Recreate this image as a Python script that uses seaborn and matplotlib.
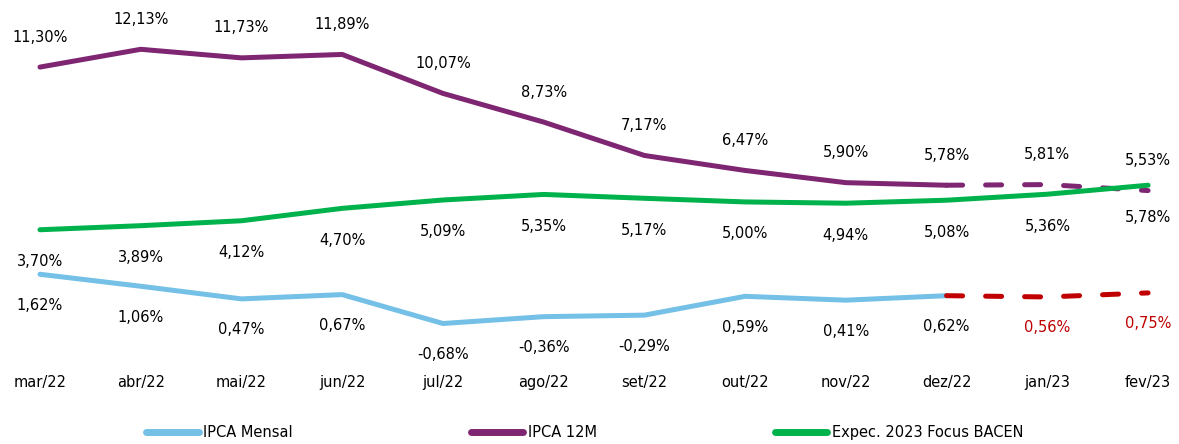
import pandas as pd
import matplotlib.pyplot as plt
import seaborn as sns
from matplotlib.lines import Line2D

# Data
months = ["mar/22", "abr/22", "mai/22", "jun/22", "jul/22", "ago/22",
          "set/22", "out/22", "nov/22", "dez/22", "jan/23", "fev/23"]
ipca_mensal = [1.62, 1.06, 0.47, 0.67, -0.68, -0.36, -0.29, 0.59, 0.41, 0.62, 0.56, 0.75]
ipca_12m = [11.30, 12.13, 11.73, 11.89, 10.07, 8.73, 7.17, 6.47, 5.90, 5.78, 5.81, 5.53]
focus_2023 = [3.70, 3.89, 4.12, 4.70, 5.09, 5.35, 5.17, 5.00, 4.94, 5.08, 5.36, 5.78]
n_realized = 10  # realized up to dez/22, projection afterwards

BLUE = "#74C0E6"
PURPLE = "#7E2672"
GREEN = "#00B24C"
RED = "#C00000"

sns.set_style("white")
plt.rcParams["font.family"] = ["DejaVu Sans"]
plt.rcParams["text.color"] = "black"
plt.rcParams["xtick.color"] = "black"

df = pd.DataFrame({
    "idx": range(len(months)),
    "mensal": ipca_mensal,
    "m12": ipca_12m,
    "focus": focus_2023,
})
real = df.iloc[:n_realized]
proj = df.iloc[n_realized - 1:]

fig = plt.figure(figsize=(11.79, 4.44), dpi=100)
ax = fig.add_axes([0, 0.178, 1, 0.777])

lw = 3.6
kw = dict(ax=ax, linewidth=lw, legend=False)
sns.lineplot(data=real, x="idx", y="mensal", color=BLUE, **kw)
sns.lineplot(data=proj, x="idx", y="mensal", color=RED, **kw)
sns.lineplot(data=real, x="idx", y="m12", color=PURPLE, **kw)
sns.lineplot(data=proj, x="idx", y="m12", color=PURPLE, **kw)
sns.lineplot(data=df, x="idx", y="focus", color=GREEN, **kw)
lines = ax.get_lines()
for line in lines:
    line.set_solid_capstyle("round")
    line.set_dash_capstyle("round")
# projected stretch (dez/22 onwards) is dashed
lines[1].set_dashes((3.2, 4.6))
lines[3].set_dashes((3.2, 4.6))


def fmt(v):
    return f"{v:.2f}%".replace(".", ",")


fs = 10.5
for i in range(len(months)):
    ax.annotate(fmt(ipca_12m[i]), (i, ipca_12m[i]), xytext=(0, 30),
                textcoords="offset pixels", ha="center", va="center", fontsize=fs)
    ax.annotate(fmt(focus_2023[i]), (i, focus_2023[i]), xytext=(0, -32),
                textcoords="offset pixels", ha="center", va="center", fontsize=fs)
    c = RED if i >= n_realized else "black"
    ax.annotate(fmt(ipca_mensal[i]), (i, ipca_mensal[i]), xytext=(0, -31),
                textcoords="offset pixels", ha="center", va="center",
                fontsize=fs, color=c)

ax.set_xlim(-0.397, 11.307)
ax.set_ylim(-2.617, 13.5)
ax.set_xticks(range(len(months)))
ax.set_xticklabels(months, fontsize=fs)
ax.tick_params(axis="x", length=0, pad=7)
ax.set_yticks([])
ax.set_xlabel("")
ax.set_ylabel("")
sns.despine(ax=ax, left=True, bottom=True)

handles = [
    Line2D([], [], color=BLUE, lw=5, solid_capstyle="round"),
    Line2D([], [], color=PURPLE, lw=5, solid_capstyle="round"),
    Line2D([], [], color=GREEN, lw=5, solid_capstyle="round"),
]
fig.legend(handles, ["IPCA Mensal", "IPCA 12M", "Expec. 2023 Focus BACEN"],
           loc="center", bbox_to_anchor=(0.496, 0.025), ncol=3, frameon=False,
           fontsize=fs, handlelength=3.6, handletextpad=0.3, columnspacing=12.2)

fig.savefig("out.png", dpi=100)
